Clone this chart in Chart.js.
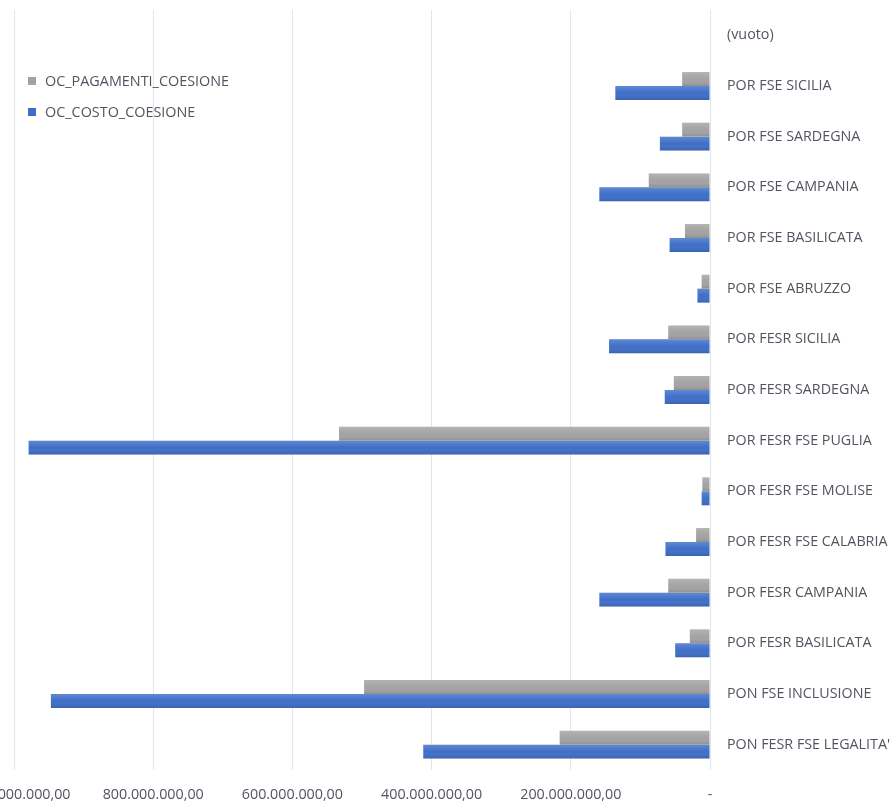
<!DOCTYPE html>
<html>
<head>
<meta charset="utf-8">
<script src="https://cdn.jsdelivr.net/npm/chart.js@4.4.0/dist/chart.umd.min.js"></script>
<style>
  body { margin: 0; background: #fff; }
  #wrap { position: relative; width: 891px; height: 801px; }
  #legend { position: absolute; left: 28px; top: 65px; font-family: "Open Sans", sans-serif; font-size: 14.4px; color: #505560; }
  #legend .item { height: 31px; display: flex; align-items: center; }
  #legend .box { width: 8px; height: 8px; margin-right: 9px; }
</style>
</head>
<body>
<div id="wrap">
  <canvas id="chart" width="891" height="801"></canvas>
  <div id="legend"></div>
</div>
<script>
const categories = [
  "(vuoto)", "POR FSE SICILIA", "POR FSE SARDEGNA", "POR FSE CAMPANIA", "POR FSE BASILICATA",
  "POR FSE ABRUZZO", "POR FESR SICILIA", "POR FESR SARDEGNA", "POR FESR FSE PUGLIA",
  "POR FESR FSE MOLISE", "POR FESR FSE CALABRIA", "POR FESR CAMPANIA", "POR FESR BASILICATA",
  "PON FSE INCLUSIONE", "PON FESR FSE LEGALITA'"
];
// amounts in euro
const pagamenti = [null, 40e6, 40e6, 88e6, 36e6, 12e6, 60e6, 52e6, 533e6, 11e6, 20e6, 60e6, 29e6, 497e6, 216e6];
const costo = [null, 136e6, 72e6, 159e6, 58e6, 18e6, 145e6, 65e6, 979e6, 12e6, 64e6, 159e6, 50e6, 947e6, 412e6];
const seriesNames = ["OC_PAGAMENTI_COESIONE", "OC_COSTO_COESIONE"];
const seriesColors = ["#a3a3a3", "#3f6fc8"];

const font = { family: "Open Sans", size: 14.3 };
const textColor = "#505560";

function euro(v) {
  if (v === 0) return "-";
  return Math.round(v).toString().replace(/\B(?=(\d{3})+(?!\d))/g, ".") + ",00";
}

// light-to-dark shading on every bar
const shade = {
  id: "shade",
  afterDatasetsDraw(chart) {
    const ctx = chart.ctx;
    chart.data.datasets.forEach((ds, i) => {
      chart.getDatasetMeta(i).data.forEach(bar => {
        const p = bar.getProps(["x", "y", "base", "height"], true);
        if (p.x == null || isNaN(p.x)) return;
        const top = p.y - p.height / 2;
        const g = ctx.createLinearGradient(0, top, 0, top + p.height);
        g.addColorStop(0, "rgba(255,255,255,0.18)");
        g.addColorStop(0.5, "rgba(255,255,255,0)");
        g.addColorStop(1, "rgba(0,0,0,0.12)");
        ctx.fillStyle = g;
        ctx.fillRect(Math.min(p.x, p.base), top, Math.abs(p.base - p.x), p.height);
      });
    });
  }
};

const chart = new Chart(document.getElementById("chart"), {
  type: "bar",
  data: {
    labels: categories,
    datasets: seriesNames.map((name, i) => ({
      label: name,
      data: i === 0 ? pagamenti : costo,
      backgroundColor: seriesColors[i],
      categoryPercentage: 0.55,
      barPercentage: 1
    }))
  },
  options: {
    indexAxis: "y",
    responsive: false,
    animation: false,
    layout: { padding: { left: 14, top: 10, right: 0, bottom: 0 } },
    plugins: { legend: { display: false }, tooltip: { enabled: false } },
    scales: {
      x: {
        reverse: true,
        min: 0,
        max: 1000e6,
        ticks: { stepSize: 200e6, callback: v => euro(v), color: textColor, font, padding: 16, maxRotation: 0 },
        grid: { color: "#e2e6ec", drawTicks: false },
        border: { display: false },
        afterFit: s => { s.paddingLeft = 0; s.paddingRight = 0; s.height = 31; }
      },
      y: {
        position: "right",
        ticks: { color: textColor, font, padding: 17 },
        grid: { display: false, drawTicks: false },
        border: { display: false },
        afterFit: s => { s.width = 181; s.paddingTop = 0; s.paddingBottom = 0; }
      }
    }
  },
  plugins: [shade]
});

// legend in the upper left corner of the plot
const legend = document.getElementById("legend");
seriesNames.forEach((name, i) => {
  const item = document.createElement("div");
  item.className = "item";
  item.innerHTML = `<span class="box" style="background:${seriesColors[i]}"></span>${name}`;
  legend.appendChild(item);
});
</script>
</body>
</html>
